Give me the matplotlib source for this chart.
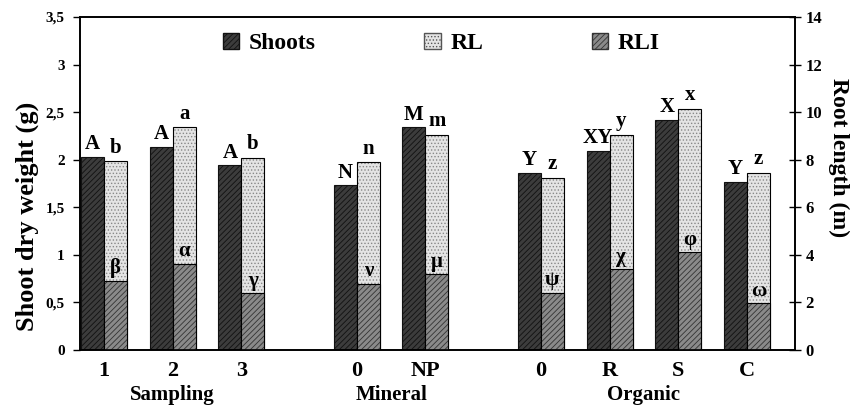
import matplotlib
matplotlib.use('Agg')
import matplotlib.pyplot as plt
from matplotlib.patches import Patch
from matplotlib.transforms import blended_transform_factory

plt.rcParams['font.family'] = ['Liberation Serif', 'DejaVu Serif']
plt.rcParams['font.weight'] = 'bold'
plt.rcParams['hatch.linewidth'] = 0.6

# categories and groups
labels = ['1', '2', '3', '0', 'NP', '0', 'R', 'S', 'C']
groups = ['Sampling', 'Mineral', 'Organic']
group_sizes = [3, 2, 4]

# values
shoots = [2.03, 2.13, 1.94, 1.73, 2.34, 1.86, 2.09, 2.42, 1.77]   # g, left axis
rl = [7.94, 9.37, 8.09, 7.90, 9.05, 7.25, 9.05, 10.14, 7.45]      # m, right axis
rli = [2.90, 3.62, 2.38, 2.76, 3.18, 2.40, 3.39, 4.10, 1.96]       # m, right axis

shoot_letters = ['A', 'A', 'A', 'N', 'M', 'Y', 'XY', 'X', 'Y']
rl_letters = ['b', 'a', 'b', 'n', 'm', 'z', 'y', 'x', 'z']
rli_letters = ['β', 'α', 'γ', 'ν', 'μ', 'ψ', 'χ', 'φ', 'ω']

# x positions: one slot per category, wider gap between groups
gap = 0.68
pos = []
x = 0.0
for g, n in enumerate(group_sizes):
    for i in range(n):
        pos.append(x)
        x += 1
    x += gap
w = 0.335

fig = plt.figure(figsize=(8.5, 4.08), dpi=100)
ax = fig.add_axes([80/850, 1 - 350/408, 715/850, 333/408])
ax2 = ax.twinx()

xs = [p - w/2 for p in pos]
xr = [p + w/2 for p in pos]

ax.bar(xs, shoots, w, color='#3c3c3c', edgecolor='#111111', hatch='//////', linewidth=0.8)
ax2.bar(xr, rl, w, color='#e4e4e4', edgecolor='#888888', hatch='.....', linewidth=0)
ax2.bar(xr, rl, w, fill=False, edgecolor='black', linewidth=0.8)
ax2.bar(xr, rli, w, color='#8a8a8a', edgecolor='#333333', hatch='//////', linewidth=0)
ax2.bar(xr, rli, w, fill=False, edgecolor='black', linewidth=0.8)

for i in range(len(pos)):
    ax.text(xs[i], shoots[i] + 0.03, shoot_letters[i], ha='center', va='bottom',
            fontsize=15, fontweight='bold')
    ax2.text(xr[i], rl[i] + 0.14, rl_letters[i], ha='center', va='bottom',
             fontsize=15, fontweight='bold')
    ax2.text(xr[i], rli[i] + 0.12, rli_letters[i], ha='center', va='bottom',
             fontsize=15, fontweight='bold')

ax.set_xlim(-0.35, 10.06)
ax.set_ylim(0, 3.5)
ax2.set_ylim(0, 14)
ax.set_yticks([0, 0.5, 1, 1.5, 2, 2.5, 3, 3.5])
ax.set_yticklabels([f'{v:g}'.replace('.', ',') for v in [0, 0.5, 1, 1.5, 2, 2.5, 3, 3.5]])
ax2.set_yticks(range(0, 15, 2))
ax.tick_params(axis='y', direction='out', length=5, width=1, labelsize=11, pad=6)
ax2.tick_params(axis='y', direction='inout', length=9, width=1, labelsize=12, pad=3)
for t in ax.get_yticklabels() + ax2.get_yticklabels():
    t.set_fontweight('bold')

ax.set_xticks(pos)
ax.set_xticklabels(labels, fontsize=16, fontweight='bold')
ax.tick_params(axis='x', length=0, pad=8)

# group names under the tick labels
trans = blended_transform_factory(ax.transData, fig.transFigure)
start = 0
for g, n in zip(groups, group_sizes):
    c = (pos[start] + pos[start + n - 1]) / 2
    ax.text(c, 3 / 408, g, transform=trans, ha='center', va='bottom',
            fontsize=15, fontweight='bold')
    start += n

for sp in ax.spines.values():
    sp.set_linewidth(1.2)
for sp in ax2.spines.values():
    sp.set_linewidth(1.2)

ax.set_ylabel('Shoot dry weight (g)', fontsize=19, fontweight='bold', va='center')
ax.yaxis.set_label_coords((27 - 80) / 715, 0.40)
ax2.set_ylabel('Root length (m)', fontsize=17, fontweight='bold', rotation=270, va='center')
ax2.yaxis.set_label_coords(1 + 44 / 715, 0.577)

handles = [Patch(facecolor='#3c3c3c', edgecolor='#111111', hatch='//////'),
           Patch(facecolor='#e4e4e4', edgecolor='#555555', hatch='.....'),
           Patch(facecolor='#8a8a8a', edgecolor='#333333', hatch='//////')]
ax2.legend(handles, ['Shoots', 'RL', 'RLI'], ncol=3, loc='center',
           bbox_to_anchor=(0.505, 0.92), frameon=False,
           handlelength=0.7, handleheight=0.7, handletextpad=0.4, columnspacing=4.6,
           prop={'weight': 'bold', 'size': 17})

fig.savefig('out.png', dpi=100)
